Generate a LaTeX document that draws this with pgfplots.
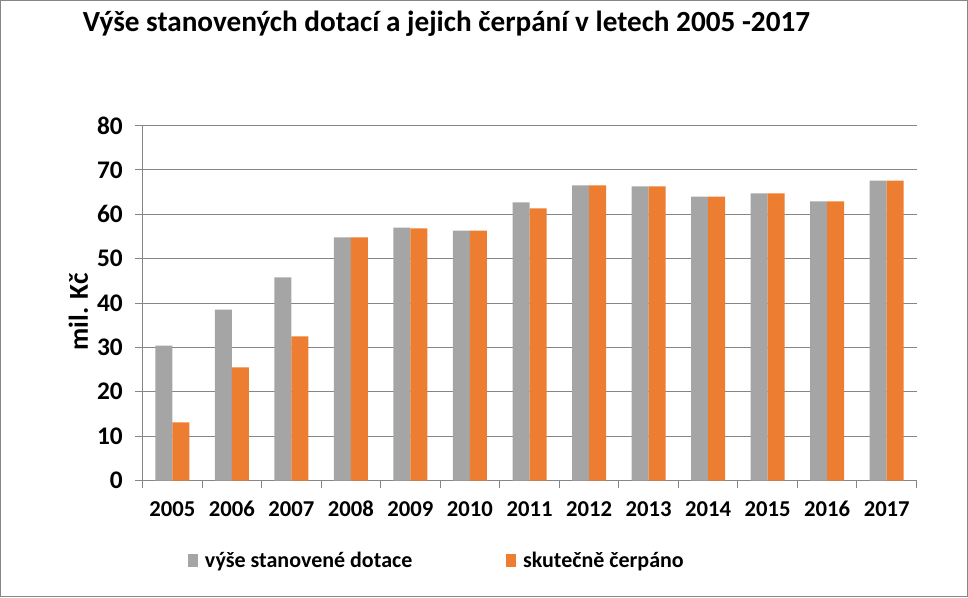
\documentclass[border=0pt]{standalone}
\usepackage{pgfplots}
\pgfplotsset{compat=1.18}
\usepackage{fontspec}
\setmainfont{Carlito}
\definecolor{bargray}{HTML}{A5A5A5}
\definecolor{barorange}{HTML}{ED7D31}
\definecolor{gridgray}{HTML}{868686}
\begin{document}
\begin{tikzpicture}
\draw[gridgray, line width=0.75pt] (-106.5pt,-87pt) rectangle (618.75pt,360pt);
\node[anchor=west, font=\bfseries\fontsize{21.9}{25}\selectfont, inner sep=0pt] at (-45pt,342.75pt) {Výše stanovených dotací a jejich čerpání v letech 2005 -2017};
\begin{axis}[
  at={(0pt,0pt)}, anchor=south west,
  scale only axis,
  width=580.5pt, height=266.25pt,
  ybar=0pt, bar width=12.75pt,
  xmin=-0.5, xmax=12.5,
  ymin=0, ymax=80,
  ytick={0,10,...,80},
  xtick={0,...,12},
  xticklabels={2005,2006,2007,2008,2009,2010,2011,2012,2013,2014,2015,2016,2017},
  minor xtick={-0.5,0.5,...,12.5},
  axis x line*=bottom, axis y line*=left,
  axis line style={gridgray, line width=0.75pt},
  ymajorgrids, grid style={gridgray, line width=0.75pt},
  major x tick style={draw=none},
  minor x tick style={gridgray, line width=0.75pt},
  major y tick style={gridgray, line width=0.75pt},
  tick align=outside,
  major tick length=5.25pt, minor tick length=5.25pt,
  /pgf/number format/assume math mode=true,
  xticklabel style={font=\bfseries\fontsize{17}{20}\selectfont, anchor=base, yshift=-21.75pt},
  yticklabel style={font=\bfseries\fontsize{19}{22}\selectfont, xshift=-6pt},
  ylabel={mil. Kč},
  ylabel style={font=\bfseries\fontsize{20.5}{24}\selectfont, anchor=center, at={(axis description cs:-0.0827,0.475)}},
  legend style={at={(axis description cs:0.058,-0.2254)}, anchor=west,
    draw=none, inner sep=0pt, font=\fontsize{16.5}{19}\selectfont\bfseries,
    legend columns=2,
    /tikz/every odd column/.append style={column sep=3pt},
    /tikz/every even column/.append style={column sep=68pt}},
  legend image code/.code={\fill[#1] (0pt,-4.75pt) rectangle (8pt,4.75pt);},
]
\addplot[fill=bargray, draw=none] coordinates {(0,30.4) (1,38.5) (2,45.8) (3,54.8) (4,57.0) (5,56.3) (6,62.7) (7,66.5) (8,66.3) (9,64.0) (10,64.7) (11,62.9) (12,67.6)};
\addplot[fill=barorange, draw=none] coordinates {(0,13.1) (1,25.5) (2,32.5) (3,54.8) (4,56.8) (5,56.3) (6,61.3) (7,66.5) (8,66.3) (9,64.0) (10,64.7) (11,62.9) (12,67.6)};
\legend{výše stanovené dotace, skutečně čerpáno}
\end{axis}
\end{tikzpicture}
\end{document}
